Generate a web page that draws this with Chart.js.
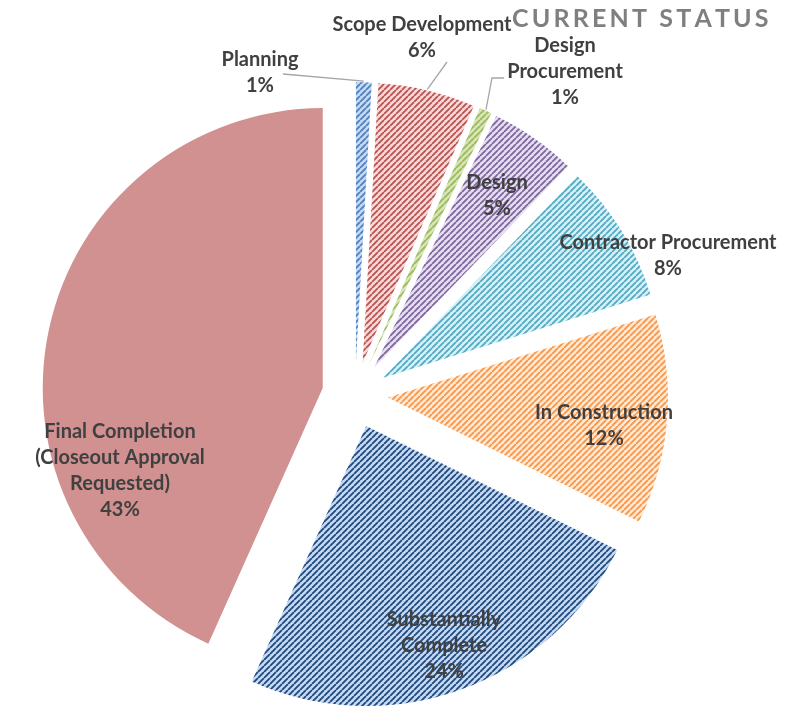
<!DOCTYPE html>
<html>
<head>
<meta charset="utf-8">
<title>Current Status</title>
<script src="https://cdn.jsdelivr.net/npm/chart.js@4.4.1/dist/chart.umd.min.js"></script>
<style>
  html, body { margin: 0; padding: 0; background: #fff; }
  #wrap { width: 788px; height: 711px; }
</style>
</head>
<body>
<div id="wrap"><canvas id="status-chart" width="788" height="711"></canvas></div>
<script>
// data (percent of projects)
const categories = ['Planning', 'Scope Development', 'Design Procurement', 'Design',
    'Contractor Procurement', 'In Construction', 'Substantially Complete',
    'Final Completion (Closeout Approval Requested)'];
const shares = [0.9, 5.6, 0.7, 5.0, 8.0, 12.1, 24.4, 43.3];

// how each name is broken over lines on the chart
const labelLines = [
    ['Planning'], ['Scope Development'], ['Design', 'Procurement'], ['Design'],
    ['Contractor Procurement'], ['In Construction'], ['Substantially', 'Complete'],
    ['Final Completion', '(Closeout Approval', 'Requested)']
];

const stripeColors = ['#4F81BD', '#C0504D', '#9BBB59', '#8064A2', '#4BACC6', '#F79646', '#1F497D', null];
const backColors = ['#C6D9F1', '#F2DCDB', '#D7E4BC', '#E4DFEC', '#DAEEF3', '#FDE9D9', '#C6D9F1', '#D09190'];

// label layout: centre x and first line y, plus leader line end points
const labelAt = [[260, 60], [422, 25], [565, 46], [497, 183], [668, 243], [604, 413], [444, 620], [120, 432]];
const leaderTo = [[[283, 74]], [[447, 62]], [[492, 78], [504, 78]], null, null, null, null, null];

const EXPLODE = 33;
const LINE_H = 25.7;
const TEXT_COLOR = '#404040';
const LABEL_FONT = 'bold 20px Lato';

function makeHatch(fg, bg) {
    const size = 6;
    const tile = document.createElement('canvas');
    tile.width = size;
    tile.height = size;
    const g = tile.getContext('2d');
    g.fillStyle = bg;
    g.fillRect(0, 0, size, size);
    g.strokeStyle = fg;
    g.lineWidth = 1.8;
    g.beginPath();
    for (let k = -1; k <= 1; k++) {
        g.moveTo(k * size, size);
        g.lineTo(k * size + size, 0);
    }
    g.stroke();
    return g.createPattern(tile, 'repeat');
}

const fills = backColors.map((bg, i) => stripeColors[i] ? makeHatch(stripeColors[i], bg) : bg);

// push every slice out from the centre along its middle angle
const explodePlugin = {
    id: 'explode',
    beforeDatasetsDraw(chart) {
        const area = chart.chartArea;
        const cx = (area.left + area.right) / 2;
        const cy = (area.top + area.bottom) / 2;
        chart.getDatasetMeta(0).data.forEach(arc => {
            const mid = (arc.startAngle + arc.endAngle) / 2;
            arc.x = cx + Math.cos(mid) * EXPLODE;
            arc.y = cy + Math.sin(mid) * EXPLODE;
        });
    }
};

const labelPlugin = {
    id: 'sliceLabels',
    afterDatasetsDraw(chart) {
        const ctx = chart.ctx;
        const arcs = chart.getDatasetMeta(0).data;
        const total = shares.reduce((a, b) => a + b, 0);
        ctx.save();

        // leader lines
        ctx.strokeStyle = '#A6A6A6';
        ctx.lineWidth = 1.3;
        arcs.forEach((arc, i) => {
            if (!leaderTo[i]) return;
            const mid = (arc.startAngle + arc.endAngle) / 2;
            const r = arc.outerRadius + 1;
            ctx.beginPath();
            ctx.moveTo(arc.x + Math.cos(mid) * r, arc.y + Math.sin(mid) * r);
            leaderTo[i].forEach(p => ctx.lineTo(p[0], p[1]));
            ctx.stroke();
        });

        // texts
        ctx.fillStyle = TEXT_COLOR;
        ctx.font = LABEL_FONT;
        ctx.textAlign = 'center';
        ctx.textBaseline = 'middle';
        labelLines.forEach((lines, i) => {
            const pct = Math.round(shares[i] / total * 100) + '%';
            const [x, y] = labelAt[i];
            lines.concat([pct]).forEach((t, j) => ctx.fillText(t, x, y + j * LINE_H));
        });

        // title, spread out to the right edge
        const title = 'CURRENT STATUS';
        ctx.font = 'bold 25px Lato';
        ctx.fillStyle = '#7F7F7F';
        ctx.textAlign = 'left';
        ctx.textBaseline = 'alphabetic';
        const plain = ctx.measureText(title).width;
        const spacing = (253 - plain) / (title.length - 1);
        let x = 512;
        for (const ch of title) {
            ctx.fillText(ch, x, 27);
            x += ctx.measureText(ch).width + spacing;
        }
        ctx.restore();
    }
};

const ctx = document.getElementById('status-chart').getContext('2d');
const statusChart = new Chart(ctx, {
    type: 'pie',
    data: {
        labels: categories,
        datasets: [{
            data: shares,
            backgroundColor: fills,
            borderWidth: 0,
            clip: false
        }]
    },
    options: {
        responsive: false,
        animation: false,
        events: [],
        radius: 280,
        layout: { padding: { left: 0, right: 78, top: 79, bottom: 0 } },
        plugins: {
            legend: { display: false },
            tooltip: { enabled: false }
        }
    },
    plugins: [explodePlugin, labelPlugin]
});
</script>
</body>
</html>
